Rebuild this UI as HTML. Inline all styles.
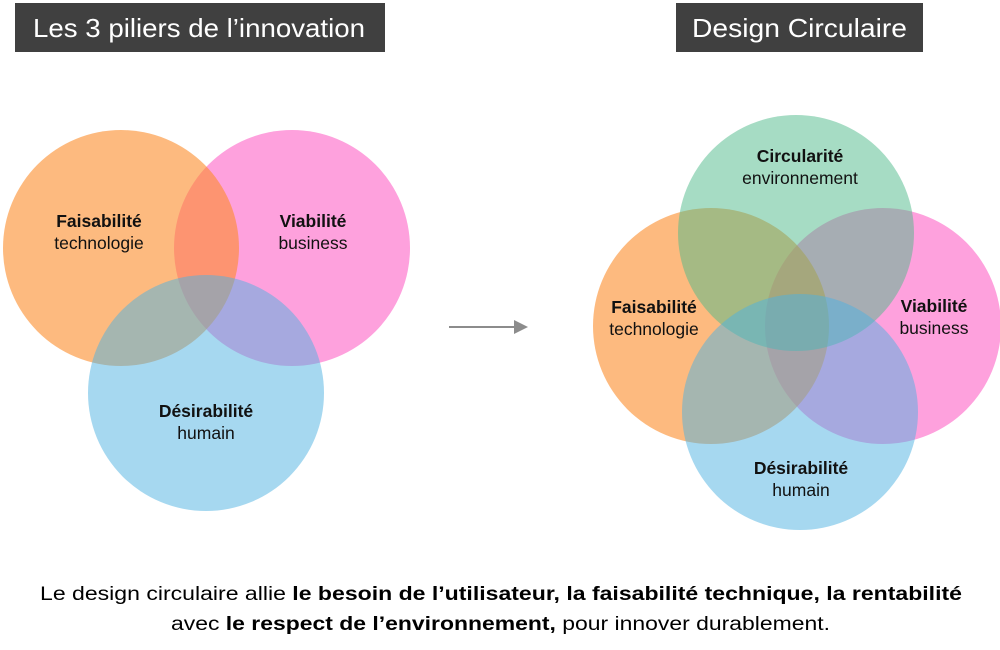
<!DOCTYPE html>
<html><head><meta charset="utf-8"><style>
html,body{margin:0;padding:0;background:#fff;}
svg{display:block;}
text{font-family:"Liberation Sans",Arial,sans-serif;}
</style></head><body>
<svg width="1000" height="650" viewBox="0 0 1000 650" xmlns="http://www.w3.org/2000/svg">
<rect x="15" y="3" width="370" height="49" fill="#404040"/>
<text x="33" y="37" font-size="26" fill="#fff" textLength="332" lengthAdjust="spacingAndGlyphs">Les 3 piliers de l’innovation</text>
<rect x="676" y="3" width="247" height="49" fill="#404040"/>
<text x="692" y="37" font-size="26" fill="#fff" textLength="215" lengthAdjust="spacingAndGlyphs">Design Circulaire</text>

<!-- left -->
<circle cx="292" cy="248" r="118" fill="#fea1dd"/>
<circle cx="121" cy="248" r="118" fill="rgb(252,140,42)" fill-opacity="0.6"/>
<circle cx="206" cy="393" r="118" fill="rgb(77,177,225)" fill-opacity="0.5"/>
<g font-size="17.5" text-anchor="middle" fill="#111">
<text x="99" y="227" font-weight="bold">Faisabilité</text>
<text x="99" y="249">technologie</text>
<text x="313" y="227" font-weight="bold">Viabilité</text>
<text x="313" y="249">business</text>
<text x="206" y="417" font-weight="bold">Désirabilité</text>
<text x="206" y="439">humain</text>
</g>

<!-- arrow -->
<line x1="449" y1="327" x2="516" y2="327" stroke="#8c8c8c" stroke-width="2"/>
<polygon points="514,320 528,327 514,334" fill="#8c8c8c"/>

<!-- right -->
<circle cx="883" cy="326" r="118" fill="#fea1dd"/>
<circle cx="711" cy="326" r="118" fill="rgb(252,140,42)" fill-opacity="0.6"/>
<circle cx="796" cy="233" r="118" fill="rgb(77,185,137)" fill-opacity="0.5"/>
<circle cx="800" cy="412" r="118" fill="rgb(77,177,225)" fill-opacity="0.5"/>
<g font-size="17.5" text-anchor="middle" fill="#111">
<text x="800" y="162" font-weight="bold">Circularité</text>
<text x="800" y="184">environnement</text>
<text x="654" y="313" font-weight="bold">Faisabilité</text>
<text x="654" y="335">technologie</text>
<text x="934" y="312" font-weight="bold">Viabilité</text>
<text x="934" y="334">business</text>
<text x="801" y="474" font-weight="bold">Désirabilité</text>
<text x="801" y="496">humain</text>
</g>

<g font-size="19" fill="#000">
<text x="40" y="600" textLength="922" lengthAdjust="spacingAndGlyphs">Le design circulaire allie <tspan font-weight="bold">le besoin de l’utilisateur, la faisabilité technique, la rentabilité</tspan></text>
<text x="171" y="630" textLength="659" lengthAdjust="spacingAndGlyphs">avec <tspan font-weight="bold">le respect de l’environnement,</tspan> pour innover durablement.</text>
</g>
</svg>
</body></html>
